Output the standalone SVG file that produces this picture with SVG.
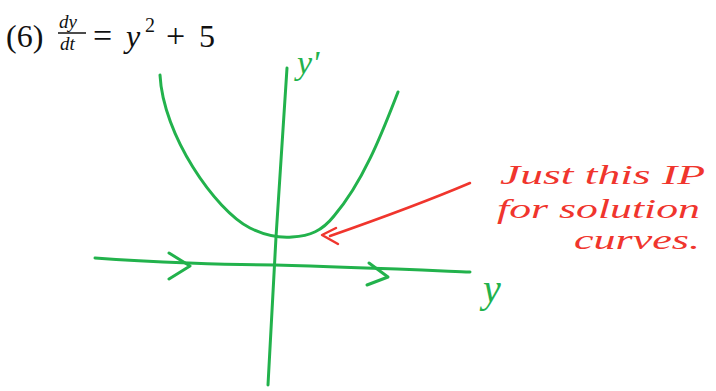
<svg xmlns="http://www.w3.org/2000/svg" width="716" height="391" viewBox="0 0 716 391">
<style>
.g{fill:none;stroke:#22b24c;stroke-width:3;stroke-linecap:round;stroke-linejoin:round}
.r{fill:none;stroke:#f0352d;stroke-width:2.5;stroke-linecap:round;stroke-linejoin:round}
.t{font-family:"Liberation Serif","DejaVu Serif",serif;fill:#111}
.h{font-family:"Liberation Serif","DejaVu Serif",serif;font-style:italic;fill:#f0352d;font-size:28px}
.gl{font-family:"Liberation Serif","DejaVu Serif",serif;font-style:italic;fill:#22b24c}
</style>
<rect width="716" height="391" fill="#fff"/>
<g id="title">
<text class="t" x="6" y="47" font-size="32">(6)</text>
<text class="t" x="59" y="28" font-size="19" font-style="italic">dy</text>
<line x1="58" y1="33" x2="86" y2="33" stroke="#111" stroke-width="1.5"/>
<text class="t" x="60" y="50" font-size="19" font-style="italic">dt</text>
<text class="t" x="93" y="47" font-size="34">=</text>
<text class="t" x="126" y="47" font-size="32" font-style="italic">y</text>
<text class="t" x="145" y="32" font-size="20">2</text>
<text class="t" x="166" y="47" font-size="34">+</text>
<text class="t" x="199" y="47" font-size="32">5</text>
</g>
<g id="axes">
<path class="g" d="M287,68 L276,237 L268,385"/>
<path class="g" d="M95,258 C150,262 230,265 275,265 C350,267 420,270 470,272"/>
<path class="g" d="M169,253 L190,266 L169,279"/>
<path class="g" d="M369,263 L388,277 L367,285"/>
</g>
<g id="parabola">
<path class="g" d="M160,75 C163,135 215,210 250,228 C262,234 278,238 292,237 C310,236 322,231 334,216 C365,180 385,125 398,92"/>
</g>
<g id="labels">
<text class="gl" x="297" y="74" font-size="34">y'</text>
<text class="gl" x="483" y="302" font-size="40">y</text>
</g>
<g id="note">
<path class="r" d="M470,183 C430,200 370,222 330,236"/>
<path class="r" d="M336,228 L322,235 L338,244"/>
<text class="h" x="500" y="184" textLength="205" lengthAdjust="spacingAndGlyphs">Just this IP</text>
<text class="h" x="497" y="218" textLength="203" lengthAdjust="spacingAndGlyphs">for solution</text>
<text class="h" x="574" y="249" textLength="126" lengthAdjust="spacingAndGlyphs">curves.</text>
</g>
</svg>
